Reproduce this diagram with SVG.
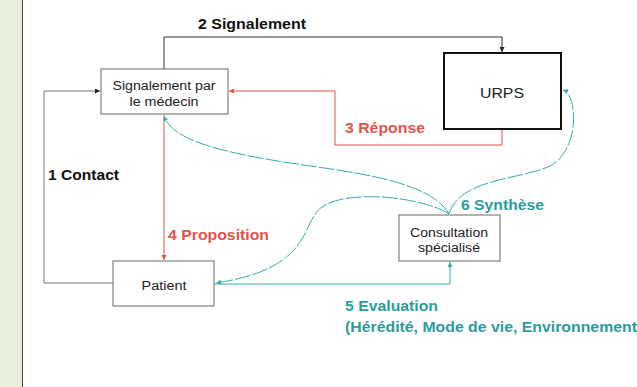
<svg xmlns="http://www.w3.org/2000/svg" width="637" height="387" viewBox="0 0 637 387">
<defs>
<marker id="ab" viewBox="0 0 6 6" refX="6" refY="3" markerWidth="5" markerHeight="5" orient="auto"><path d="M0,0 L6,3 L0,6 z" fill="#222"/></marker>
<marker id="ar" viewBox="0 0 6 6" refX="6" refY="3" markerWidth="5" markerHeight="5" orient="auto"><path d="M0,0 L6,3 L0,6 z" fill="#e0554a"/></marker>
<marker id="at" viewBox="0 0 6 6" refX="6" refY="3" markerWidth="5" markerHeight="5" orient="auto"><path d="M0,0 L6,3 L0,6 z" fill="#33aaa8"/></marker>
</defs>
<style>
.box{fill:#fff;stroke:#666;stroke-width:1}
.t{font-family:"Liberation Sans",Arial,sans-serif;font-size:12.5px;fill:#222;text-anchor:middle}
.lb{font-family:"Liberation Sans",Arial,sans-serif;font-size:15px;font-weight:bold}
.blk{fill:none;stroke:#333;stroke-width:1}
.red{fill:none;stroke:#e0554a;stroke-width:1}
.tl{fill:none;stroke:#33aaa8;stroke-width:1}
.cv{fill:none;stroke:#33aaa8;stroke-width:1;stroke-dasharray:16 2}
</style>
<rect x="0" y="0" width="637" height="387" fill="#fff"/>
<rect x="0" y="0" width="22" height="387" fill="#e8f0dc"/>
<line x1="22.5" y1="0" x2="22.5" y2="387" stroke="#444" stroke-width="1"/>
<g id="connectors">
<path class="blk" d="M164,69 V37 H502 V52" marker-end="url(#ab)"/>
<path class="red" d="M502,129 V145 H335 V91 H229" marker-end="url(#ar)"/>
<path d="M113,283 H44 V91 H100" fill="none" stroke="#777" stroke-width="1" marker-end="url(#ab)"/>
<path class="red" d="M164,115 V260" marker-end="url(#ar)"/>
<path class="tl" d="M214,284 H450 V262" marker-end="url(#at)"/>
<path class="cv" d="M449,214 C430,180 350,172 290,163 C220,152 172,140 164,116" marker-end="url(#at)"/>
<path class="cv" d="M449,214 C425,198 350,188 322,207 C300,222 315,268 216,283" marker-end="url(#at)"/>
<path class="cv" d="M449,214 C460,178 520,180 550,166 C580,150 578,95 563,90" marker-end="url(#at)"/>
</g>
<g id="signalement"><rect class="box" x="101" y="69" width="127" height="45"/><text class="t" x="164" y="90" textLength="103" lengthAdjust="spacingAndGlyphs">Signalement par</text><text class="t" x="164" y="106" textLength="69" lengthAdjust="spacingAndGlyphs">le médecin</text></g>
<g id="urps"><rect x="444" y="53" width="117" height="76" fill="#fff" stroke="#111" stroke-width="2"/><text class="t" x="502" y="98" style="font-size:15px" textLength="44" lengthAdjust="spacingAndGlyphs">URPS</text></g>
<g id="patient"><rect class="box" x="113" y="261" width="101" height="45"/><text class="t" x="164" y="290" textLength="45" lengthAdjust="spacingAndGlyphs">Patient</text></g>
<g id="consultation"><rect class="box" x="399" y="215" width="101" height="46"/><text class="t" x="449" y="237" textLength="78" lengthAdjust="spacingAndGlyphs">Consultation</text><text class="t" x="449" y="252" textLength="62" lengthAdjust="spacingAndGlyphs">spécialisé</text></g>
<g id="labels">
<text class="lb" x="198" y="29" fill="#111" textLength="108" lengthAdjust="spacingAndGlyphs">2 Signalement</text>
<text class="lb" x="345" y="133" fill="#e0554a" textLength="80" lengthAdjust="spacingAndGlyphs">3 Réponse</text>
<text class="lb" x="48" y="180" fill="#111" textLength="71" lengthAdjust="spacingAndGlyphs">1 Contact</text>
<text class="lb" x="168" y="240" fill="#e0554a" textLength="101" lengthAdjust="spacingAndGlyphs">4 Proposition</text>
<text class="lb" x="461" y="210" fill="#2a9d9a" textLength="83" lengthAdjust="spacingAndGlyphs">6 Synthèse</text>
<text class="lb" x="345" y="311" fill="#2a9d9a" textLength="93" lengthAdjust="spacingAndGlyphs">5 Evaluation</text>
<text class="lb" x="345" y="332" fill="#2a9d9a" textLength="292" lengthAdjust="spacingAndGlyphs">(Hérédité, Mode de vie, Environnement</text>
</g>
</svg>
